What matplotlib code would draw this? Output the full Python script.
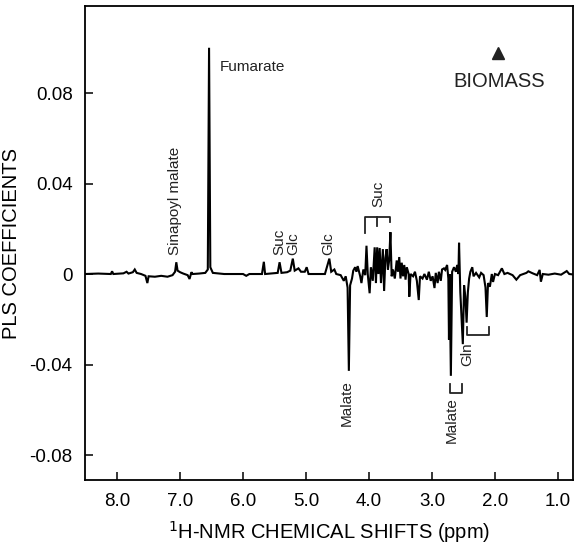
import matplotlib
matplotlib.use("Agg")
import matplotlib.pyplot as plt

plt.rcParams['font.family'] = ['Liberation Sans', 'DejaVu Sans']
plt.rcParams['axes.unicode_minus'] = False

# spectrum: chemical shift (ppm) and PLS coefficient
ppm = [8.51, 8.30, 8.10, 8.08, 8.06, 7.90, 7.85, 7.82, 7.75, 7.72, 7.69, 7.62,
       7.55, 7.52, 7.50, 7.40, 7.30, 7.20, 7.12, 7.08, 7.06, 7.04, 7.00, 6.95,
       6.88, 6.85, 6.82, 6.80, 6.70, 6.60, 6.56, 6.54, 6.52, 6.48, 6.30, 6.00,
       5.95, 5.90, 5.70, 5.67, 5.65, 5.45, 5.42, 5.39, 5.30, 5.25, 5.21, 5.18,
       5.12, 5.08, 5.02, 4.99, 4.96, 4.70, 4.63, 4.60, 4.55, 4.52, 4.45, 4.40,
       4.37, 4.34, 4.32, 4.30, 4.27, 4.25, 4.22, 4.20, 4.18, 4.14, 4.12, 4.09,
       4.06, 4.04, 4.02, 3.99, 3.97, 3.94, 3.91, 3.89, 3.87, 3.85, 3.83, 3.81,
       3.78, 3.76, 3.74, 3.72, 3.70, 3.68, 3.66, 3.64, 3.62, 3.59, 3.56, 3.54,
       3.52, 3.50, 3.48, 3.46, 3.44, 3.42, 3.40, 3.37, 3.36, 3.34, 3.30, 3.27,
       3.24, 3.21, 3.19, 3.15, 3.12, 3.08, 3.05, 3.02, 2.99, 2.96, 2.94, 2.91,
       2.89, 2.86, 2.84, 2.81, 2.79, 2.76, 2.74, 2.73, 2.72, 2.70, 2.68, 2.65,
       2.62, 2.60, 2.58, 2.57, 2.55, 2.51, 2.49, 2.47, 2.45, 2.43, 2.41, 2.39,
       2.36, 2.34, 2.30, 2.25, 2.22, 2.18, 2.15, 2.13, 2.11, 2.08, 2.05, 2.03,
       2.00, 1.95, 1.89, 1.85, 1.80, 1.72, 1.66, 1.60, 1.50, 1.47, 1.40, 1.33,
       1.29, 1.27, 1.24, 1.15, 1.05, 0.95, 0.86, 0.82, 0.76]
coef = [0.0, 0.0002, 0.0, 0.0012, 0.0, 0.0003, 0.0010, 0.0002, 0.0008, 0.0020, 0.0005, 0.0,
        -0.0008, -0.0040, -0.0010, -0.0012, -0.0008, -0.0012, -0.0005, 0.0010, 0.0052, 0.0015, 0.0008, 0.0002,
        -0.0005, -0.0022, 0.0008, 0.0, 0.0002, 0.0005, 0.0020, 0.1000, 0.0030, 0.0005, 0.0, 0.0,
        -0.0008, 0.0, 0.0, 0.0054, 0.0, 0.0005, 0.0052, 0.0005, 0.0008, 0.0015, 0.0068, 0.0015,
        0.0025, 0.0010, 0.0010, 0.0030, 0.0, 0.0, 0.0068, 0.0010, 0.0020, 0.0, -0.0005, -0.0030,
        -0.0010, -0.0060, -0.0428, -0.0050, -0.0020, 0.0015, 0.0030, 0.0010, 0.0035, -0.0010, -0.0040, 0.0020,
        -0.0005, 0.0125, 0.0, -0.0085, 0.0030, -0.0030, 0.0118, -0.0040, 0.0118, 0.0, 0.0115, -0.0040,
        0.0110, -0.0075, 0.0070, 0.0110, 0.0020, 0.0060, 0.0185, -0.0010, 0.0020, -0.0020, 0.0060, 0.0010,
        0.0075, -0.0020, 0.0050, -0.0010, 0.0040, -0.0025, 0.0030, 0.0, -0.0100, 0.0, -0.0010, 0.0010,
        -0.0030, -0.0115, -0.0010, -0.0020, 0.0, -0.0025, 0.0010, -0.0030, -0.0010, -0.0062, 0.0005, -0.0040,
        0.0010, -0.0030, 0.0020, 0.0025, 0.0018, 0.0040, -0.0020, -0.0290, 0.0, -0.0450, 0.0010, 0.0030,
        0.0010, 0.0040, 0.0, 0.0138, -0.0080, -0.0310, -0.0050, -0.0100, -0.0215, -0.0080, -0.0020, 0.0010,
        0.0030, -0.0010, 0.0005, -0.0015, 0.0005, -0.0005, -0.0060, -0.0190, -0.0040, -0.0056, 0.0, -0.0035,
        0.0, -0.0005, 0.0025, 0.0, 0.0005, -0.0005, -0.0025, -0.0005, 0.0005, 0.0012, 0.0003, -0.0005,
        0.0018, -0.0034, 0.0, -0.0003, 0.0002, -0.0003, 0.0013, 0.0, -0.0002]

xticks = [8.0, 7.0, 6.0, 5.0, 4.0, 3.0, 2.0, 1.0]
xtick_labels = ['8.0', '7.0', '6.0', '5.0', '4.0', '3.0', '2.0', '1.0']
yticks = [0.08, 0.04, 0.0, -0.04, -0.08]
ytick_labels = ['0.08', '0.04', '0', '-0.04', '-0.08']

# peak labels: text, ppm, coefficient anchor, vertical alignment
peak_labels = [('Sinapoyl malate', 7.08, 0.0084, 'bottom'),
               ('Suc', 5.43, 0.0084, 'bottom'),
               ('Glc', 5.20, 0.0084, 'bottom'),
               ('Glc', 4.65, 0.0084, 'bottom'),
               ('Suc', 3.85, 0.0295, 'bottom'),
               ('Malate', 4.36, -0.0469, 'top'),
               ('Malate', 2.68, -0.0545, 'top'),
               ('Gln', 2.44, -0.0300, 'top')]

fig = plt.figure(figsize=(5.74, 5.52), dpi=100)
ax = fig.add_axes([0.1481, 0.1304, 0.8502, 0.8587])
ax.plot(ppm, coef, color='black', lw=1.5, solid_joinstyle='miter')
ax.set_xlim(8.51, 0.76)
ax.set_ylim(-0.09105, 0.11845)

ax.set_xticks(xticks)
ax.set_xticklabels(xtick_labels)
ax.set_yticks(yticks)
ax.set_yticklabels(ytick_labels)
ax.tick_params(direction='in', length=6, width=1.1, labelsize=13.5, pad=9, colors='black')
for s in ax.spines.values():
    s.set_linewidth(1.3)

ax.set_xlabel(r'$^{1}$H-NMR CHEMICAL SHIFTS (ppm)', fontsize=14.5, labelpad=7)
ax.set_ylabel('PLS COEFFICIENTS', fontsize=14.5, labelpad=6)

ax.text(6.37, 0.0915, 'Fumarate', fontsize=11, ha='left', va='center', color='#222222')
for txt, x, y, va in peak_labels:
    ax.text(x, y, txt, rotation=90, fontsize=11, ha='center', va=va, color='#222222')

# Suc bracket
ax.plot([4.06, 4.06, 3.66, 3.66], [0.0180, 0.0253, 0.0253, 0.0231], color='#222222', lw=1.3)
ax.plot([3.87, 3.87], [0.0253, 0.0212], color='#222222', lw=1.3)
# Malate bracket (2.7 ppm)
ax.plot([2.72, 2.72, 2.53, 2.53], [-0.0485, -0.0525, -0.0525, -0.0485], color='#222222', lw=1.3)
# Gln bracket
ax.plot([2.45, 2.45, 2.09, 2.09], [-0.0235, -0.0270, -0.0270, -0.0235], color='#222222', lw=1.3)

# BIOMASS arrow marker and label
ax.plot([1.945], [0.0977], marker='^', markersize=8.5, color='#222222', ls='none')
ax.text(1.94, 0.0853, 'BIOMASS', fontsize=14.5, ha='center', va='center', color='#222222')

fig.savefig('out.png', dpi=100)
